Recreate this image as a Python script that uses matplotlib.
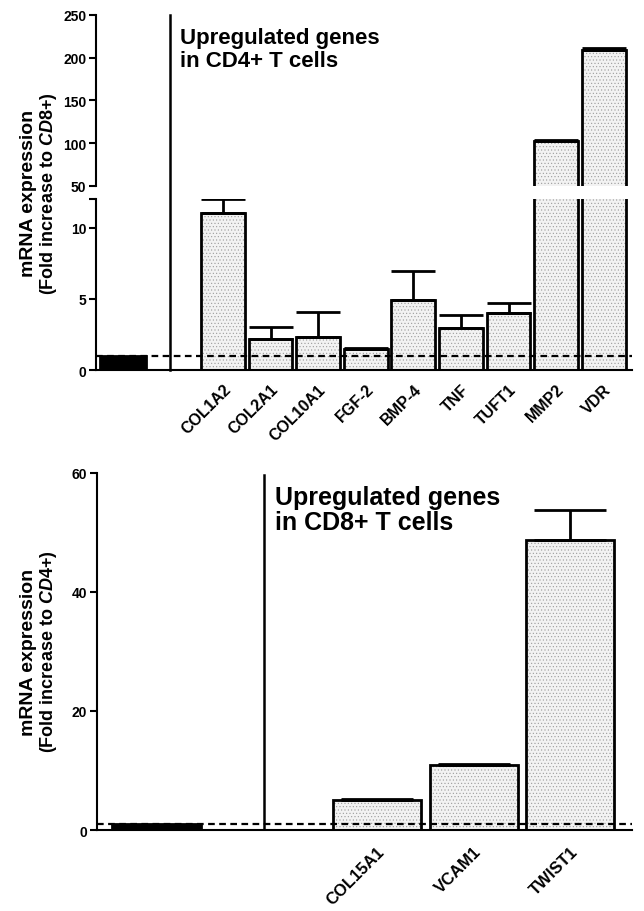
import matplotlib
matplotlib.use("Agg")
import matplotlib.pyplot as plt
import matplotlib.transforms as mtransforms
import numpy as np

plt.rcParams['font.family'] = 'Liberation Sans'
plt.rcParams['font.weight'] = 'bold'
plt.rcParams['mathtext.fontset'] = 'custom'
plt.rcParams['mathtext.rm'] = 'Liberation Sans:bold'
plt.rcParams['mathtext.it'] = 'Liberation Sans:italic:bold'
plt.rcParams['hatch.linewidth'] = 0.4

##### data: top panel (CD4+ vs CD8+)
genes_cd4 = ["COL1A2", "COL2A1", "COL10A1", "FGF-2", "BMP-4", "TNF", "TUFT1", "MMP2", "VDR"]
fold_cd4 = [11.05, 2.18, 2.32, 1.48, 4.93, 2.96, 4.01, 102.6, 209.0]
err_cd4 = [0.95, 0.85, 1.76, 0.07, 2.04, 0.91, 0.71, 1.2, 2.5]

##### data: bottom panel (CD8+ vs CD4+)
genes_cd8 = ["COL15A1", "VCAM1", "TWIST1"]
fold_cd8 = [5.04, 10.9, 48.7]
err_cd8 = [0.2, 0.25, 5.1]

ref_value = 1.0

fig = plt.figure(figsize=(6.44, 9.12), dpi=100)

fill = '#f2f2f2'
dots = '#9a9a9a'
lw = 2.0


def draw_bars(ax, x, h, e, w, capsize):
    # dotted fill first, then black outline on top
    ax.bar(x, h, width=w, color=fill, edgecolor=dots, hatch='.....', linewidth=0, zorder=2)
    ax.bar(x, h, width=w, fill=False, edgecolor='black', linewidth=lw, zorder=3)
    ax.errorbar(x, h, yerr=[np.zeros(len(e)), e], fmt='none', ecolor='black',
                elinewidth=lw, capsize=capsize, capthick=lw, zorder=3)


def style_axis(ax):
    ax.patch.set_visible(False)
    ax.spines['right'].set_visible(False)
    ax.spines['top'].set_visible(False)
    for s in ['left', 'bottom']:
        ax.spines[s].set_linewidth(1.5)
    ax.tick_params(axis='y', length=5, width=1.5, labelsize=10, pad=2)
    ax.tick_params(axis='x', length=0)


######## top panel, broken y axis
x4 = 2.1 + np.arange(len(genes_cd4))
xlim4 = (-0.57, 10.69)
ax_lo = fig.add_axes([0.149, 0.5932, 0.832, 0.1875])
ax_hi = fig.add_axes([0.149, 0.7950, 0.832, 0.1875])

for ax in (ax_lo, ax_hi):
    draw_bars(ax, x4, fold_cd4, err_cd4, 0.92, 16)
    ax.bar([0], [ref_value], width=0.97, color='black', edgecolor='black', linewidth=lw, zorder=3)
    ax.axhline(ref_value, color='black', lw=1.6, ls=(0, (3, 2)), zorder=4)
    ax.set_xlim(*xlim4)
    style_axis(ax)

ax_lo.set_ylim(0, 12)
ax_lo.set_yticks([0, 5, 10, 12])
ax_lo.set_yticklabels(['0', '5', '10', ''])
ax_lo.set_xticks(x4)
ax_lo.set_xticklabels(genes_cd4, rotation=45, ha='right', rotation_mode='anchor', fontsize=11.5)
ax_lo.tick_params(axis='x', pad=8)

ax_hi.set_ylim(50, 250)
ax_hi.set_yticks([50, 100, 150, 200, 250])
ax_hi.spines['bottom'].set_visible(False)
ax_hi.set_xticks([])

# separator line running through the break
trans = mtransforms.blended_transform_factory(ax_lo.transData, ax_lo.transAxes)
ax_lo.plot([0.99, 0.99], [0, (371 - 16) / 171], color='black', lw=1.8, transform=trans,
           clip_on=False, zorder=5)

ax_hi.text(1.2, 236, "Upregulated genes\nin CD4+ T cells", fontsize=16, fontweight='bold',
           va='top', ha='left', linespacing=1.1)

fig.text(0.044, 0.7878, "mRNA expression", rotation=90, fontsize=14, ha='center', va='center')
fig.text(0.075, 0.7878, r"(Fold increase to $\mathit{CD8{+}}$)", rotation=90, fontsize=13,
         ha='center', va='center')

######## bottom panel
x8 = 2.28 + np.arange(len(genes_cd8))
ax_b = fig.add_axes([0.1506, 0.0888, 0.8308, 0.3915])
draw_bars(ax_b, x8, fold_cd8, err_cd8, 0.91, 26)
ax_b.bar([0], [ref_value], width=0.92, color='black', edgecolor='black', linewidth=lw, zorder=3)
ax_b.axhline(ref_value, color='black', lw=1.6, ls=(0, (3, 2)), zorder=4)
ax_b.axvline(1.11, ymin=0, ymax=0.995, color='black', lw=1.8, zorder=5)
ax_b.set_xlim(-0.62, 4.92)
ax_b.set_ylim(0, 60)
ax_b.set_yticks([0, 20, 40, 60])
style_axis(ax_b)
ax_b.set_xticks(x8)
ax_b.set_xticklabels(genes_cd8, rotation=45, ha='right', rotation_mode='anchor', fontsize=12)
ax_b.tick_params(axis='x', pad=10)

ax_b.text(1.22, 58, "Upregulated genes\nin CD8+ T cells", fontsize=18, fontweight='bold',
          va='top', ha='left', linespacing=1.05)

fig.text(0.044, 0.285, "mRNA expression", rotation=90, fontsize=14, ha='center', va='center')
fig.text(0.075, 0.285, r"(Fold increase to $\mathit{CD4{+}}$)", rotation=90, fontsize=13,
         ha='center', va='center')

plt.savefig("out.png", dpi=100)
